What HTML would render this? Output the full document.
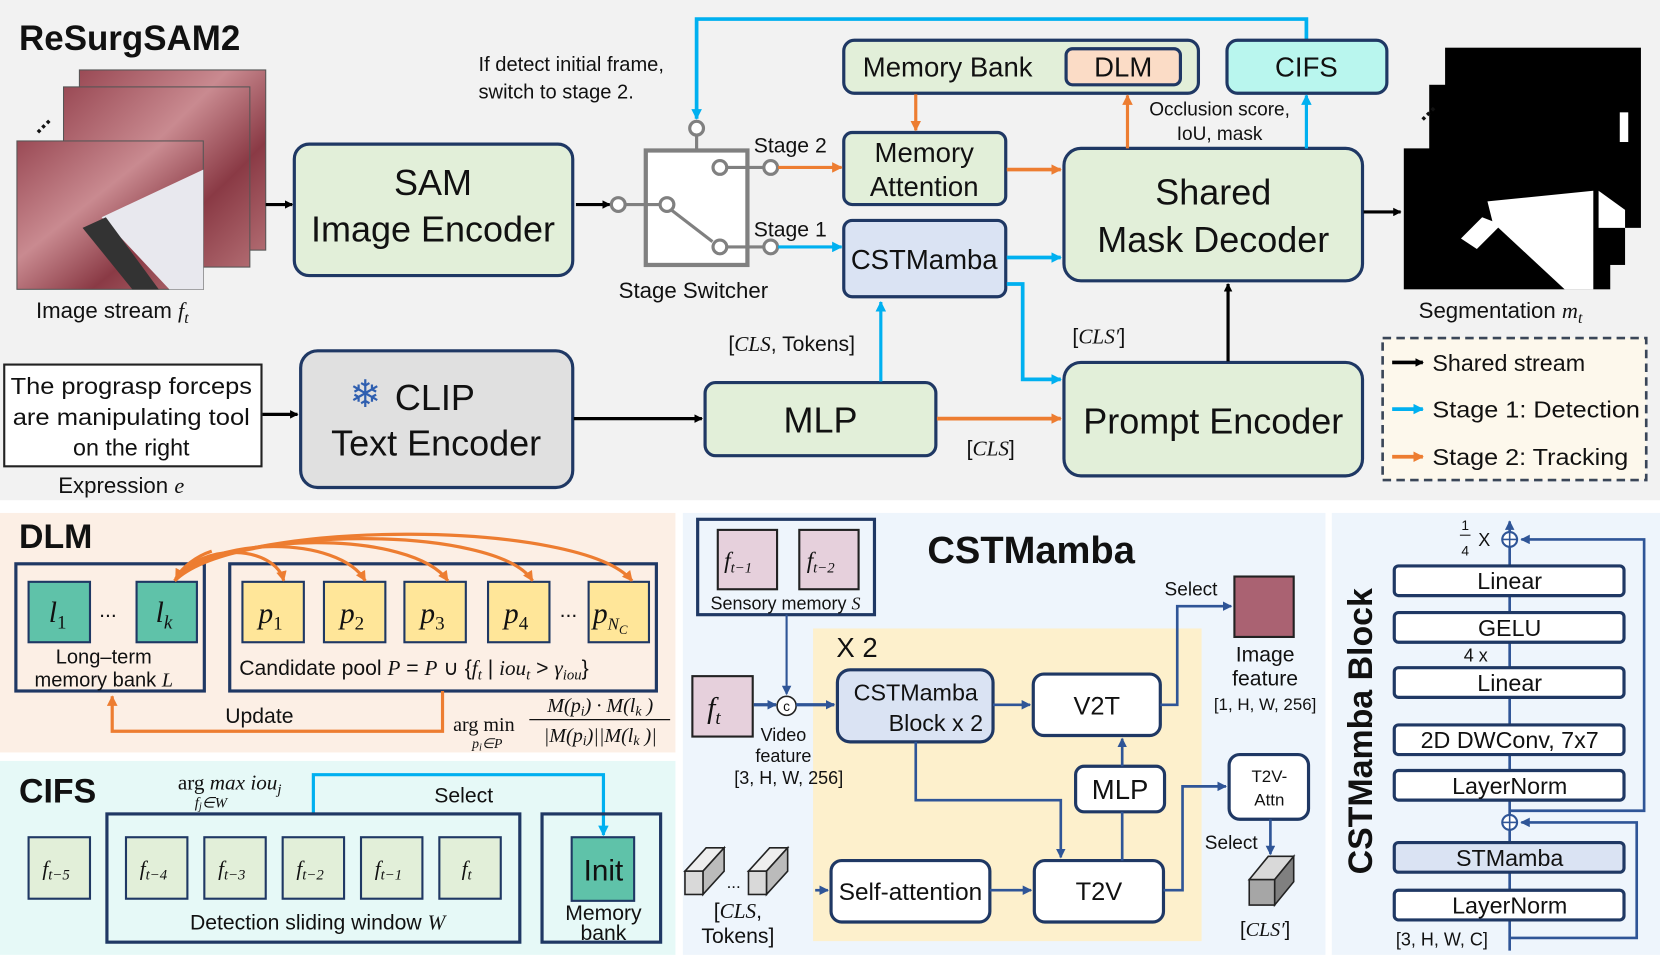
<!DOCTYPE html>
<html><head><meta charset="utf-8"><style>
html,body{margin:0;padding:0;background:#fff;}
svg{display:block;}
text{font-family:"Liberation Sans",Arial,sans-serif;fill:#111;}
.m{font-family:"Liberation Serif",serif;font-style:italic;}
.s{font-family:"Liberation Serif",serif;}
.b{font-weight:bold;}
</style></head><body>
<svg width="1660" height="957" viewBox="0 0 1568 903" preserveAspectRatio="none" xmlns="http://www.w3.org/2000/svg">
<defs>
<marker id="ak" markerWidth="8" markerHeight="8" refX="7" refY="4" orient="auto" markerUnits="userSpaceOnUse"><path d="M0,0 L8,4 L0,8 z" fill="#000"/></marker>
<marker id="ab" markerWidth="10" markerHeight="10" refX="9" refY="5" orient="auto" markerUnits="userSpaceOnUse"><path d="M0,0 L10,5 L0,10 z" fill="#00b0f0"/></marker>
<marker id="ao" markerWidth="10" markerHeight="10" refX="9" refY="5" orient="auto" markerUnits="userSpaceOnUse"><path d="M0,0 L10,5 L0,10 z" fill="#ed7d31"/></marker>
<marker id="an" markerWidth="9" markerHeight="9" refX="8" refY="4.5" orient="auto" markerUnits="userSpaceOnUse"><path d="M0,0 L9,4.5 L0,9 z" fill="#2f5597"/></marker>
<linearGradient id="tis" x1="0" y1="0" x2="1" y2="1"><stop offset="0" stop-color="#9a4a55"/><stop offset="0.4" stop-color="#c98a90"/><stop offset="0.7" stop-color="#8a3a45"/><stop offset="1" stop-color="#b06a70"/></linearGradient>
</defs>

<rect x="0" y="0" width="1568" height="472" fill="#f2f2f2"/>
<rect x="0" y="484" width="638" height="226" fill="#fcefe5"/>
<rect x="0" y="718" width="638" height="183" fill="#e6f9f7"/>
<rect x="645" y="484" width="607" height="417" fill="#eef5fc"/>
<rect x="1258" y="484" width="310" height="417" fill="#eef5fc"/>

<text x="18" y="47" class="b" font-size="33">ReSurgSAM2</text>
<rect x="75" y="66" width="176" height="170" fill="url(#tis)" stroke="#555" stroke-width="1"/>
<rect x="60" y="82" width="176" height="170" fill="url(#tis)" stroke="#555" stroke-width="1"/>
<rect x="16" y="133" width="176" height="140" fill="url(#tis)" stroke="#555" stroke-width="1"/>
<polygon points="96,205 192,160 192,273 160,273" fill="#e8e8ee"/>
<polygon points="78,215 100,205 150,273 125,273" fill="#333"/>
<text x="28" y="122" font-size="22" class="b" transform="rotate(-45 38 115)">...</text>
<text x="34" y="300" font-size="21">Image stream <tspan class="m">f</tspan><tspan class="m" font-size="15" dy="5">t</tspan></text>
<line x1="251" y1="193" x2="276" y2="193" stroke="#000" stroke-width="3" marker-end="url(#ak)"/>

<rect x="278" y="136" width="263" height="124" rx="14" fill="#e2efd9" stroke="#1f3864" stroke-width="3"/>
<text x="409" y="184" font-size="34" text-anchor="middle">SAM</text>
<text x="409" y="228" font-size="34" text-anchor="middle">Image Encoder</text>
<line x1="544" y1="193" x2="576" y2="193" stroke="#000" stroke-width="3" marker-end="url(#ak)"/>

<rect x="610" y="142" width="96" height="108" fill="#fff" stroke="#808080" stroke-width="4"/>
<g stroke="#808080" stroke-width="3" fill="#fff">
<line x1="591" y1="193" x2="624" y2="193"/>
<line x1="658" y1="128" x2="658" y2="142"/>
<line x1="687" y1="158" x2="721" y2="158"/>
<line x1="687" y1="233" x2="721" y2="233"/>
<line x1="634" y1="198" x2="673" y2="228"/>
<circle cx="584" cy="193" r="6.5"/><circle cx="630" cy="193" r="6.5"/>
<circle cx="658" cy="121" r="6.5"/>
<circle cx="680" cy="158" r="6.5"/><circle cx="728" cy="158" r="6.5"/>
<circle cx="680" cy="233" r="6.5"/><circle cx="728" cy="233" r="6.5"/>
</g>
<text x="712" y="144" font-size="20">Stage 2</text>
<text x="712" y="223" font-size="20">Stage 1</text>
<text x="655" y="281" font-size="21" text-anchor="middle">Stage Switcher</text>
<text x="452" y="67" font-size="19">If detect initial frame,</text>
<text x="452" y="93" font-size="19">switch to stage 2.</text>

<polyline points="1234,38 1234,18 658,18 658,112" fill="none" stroke="#00b0f0" stroke-width="3.5" marker-end="url(#ab)"/>

<rect x="797" y="38" width="335" height="50" rx="10" fill="#e2efd9" stroke="#1f3864" stroke-width="3"/>
<text x="815" y="72" font-size="26">Memory Bank</text>
<rect x="1007" y="46" width="108" height="34" rx="6" fill="#fbdcc6" stroke="#1f3864" stroke-width="3"/>
<text x="1061" y="72" font-size="26" text-anchor="middle">DLM</text>
<rect x="1159" y="38" width="151" height="50" rx="10" fill="#b9f6ee" stroke="#1f3864" stroke-width="3"/>
<text x="1234" y="72" font-size="26" text-anchor="middle">CIFS</text>

<rect x="797" y="125" width="153" height="68" rx="8" fill="#e2efd9" stroke="#1f3864" stroke-width="3"/>
<text x="873" y="153" font-size="26" text-anchor="middle">Memory</text>
<text x="873" y="185" font-size="26" text-anchor="middle">Attention</text>
<rect x="797" y="208" width="153" height="72" rx="8" fill="#dae3f3" stroke="#1f3864" stroke-width="3"/>
<text x="873" y="254" font-size="26" text-anchor="middle">CSTMamba</text>

<line x1="735" y1="158" x2="795" y2="158" stroke="#ed7d31" stroke-width="3" marker-end="url(#ao)"/>
<line x1="735" y1="233" x2="795" y2="233" stroke="#00b0f0" stroke-width="3" marker-end="url(#ab)"/>
<line x1="865" y1="89" x2="865" y2="123" stroke="#ed7d31" stroke-width="3" marker-end="url(#ao)"/>
<line x1="951" y1="160" x2="1002" y2="160" stroke="#ed7d31" stroke-width="3.5" marker-end="url(#ao)"/>
<line x1="951" y1="243" x2="1002" y2="243" stroke="#00b0f0" stroke-width="3.5" marker-end="url(#ab)"/>
<polyline points="951,268 966,268 966,358 1002,358" fill="none" stroke="#00b0f0" stroke-width="3.5" marker-end="url(#ab)"/>

<rect x="1005" y="140" width="282" height="125" rx="16" fill="#e2efd9" stroke="#1f3864" stroke-width="3"/>
<text x="1146" y="193" font-size="34" text-anchor="middle">Shared</text>
<text x="1146" y="238" font-size="34" text-anchor="middle">Mask Decoder</text>
<line x1="1065" y1="140" x2="1065" y2="90" stroke="#ed7d31" stroke-width="3" marker-end="url(#ao)"/>
<line x1="1234" y1="140" x2="1234" y2="90" stroke="#00b0f0" stroke-width="3" marker-end="url(#ab)"/>
<text x="1152" y="109" font-size="18" text-anchor="middle">Occlusion score,</text>
<text x="1152" y="132" font-size="18" text-anchor="middle">IoU, mask</text>
<line x1="1288" y1="200" x2="1323" y2="200" stroke="#000" stroke-width="3" marker-end="url(#ak)"/>

<rect x="1365" y="45" width="185" height="170" fill="#000"/>
<rect x="1350" y="80" width="185" height="170" fill="#000"/>
<rect x="1326" y="140" width="195" height="133" fill="#000"/>
<rect x="1530" y="106" width="8" height="28" fill="#fff"/>
<polygon points="1510,180 1535,198 1535,215 1510,215" fill="#fff"/>
<polygon points="1405,190 1505,180 1505,273 1478,273 1410,210" fill="#fff"/>
<polygon points="1380,225 1400,205 1418,212 1395,235" fill="#fff"/>
<text x="1336" y="110" font-size="22" class="b" transform="rotate(-45 1346 103)">...</text>
<text x="1340" y="300" font-size="21">Segmentation <tspan class="m">m</tspan><tspan class="m" font-size="15" dy="5">t</tspan></text>

<rect x="1306" y="319" width="249" height="134" fill="#fdf8ec" stroke="#3a4658" stroke-width="2.5" stroke-dasharray="8,5"/>
<line x1="1315" y1="342" x2="1344" y2="342" stroke="#000" stroke-width="3.5" marker-end="url(#ak)"/>
<line x1="1315" y1="386" x2="1344" y2="386" stroke="#00b0f0" stroke-width="3.5" marker-end="url(#ab)"/>
<line x1="1315" y1="431" x2="1344" y2="431" stroke="#ed7d31" stroke-width="3.5" marker-end="url(#ao)"/>
<text x="1353" y="350" font-size="22">Shared stream</text>
<text x="1353" y="394" font-size="22" textLength="196" lengthAdjust="spacingAndGlyphs">Stage 1: Detection</text>
<text x="1353" y="439" font-size="22" textLength="185" lengthAdjust="spacingAndGlyphs">Stage 2: Tracking</text>

<rect x="4" y="344" width="243" height="96" fill="#fff" stroke="#222" stroke-width="2"/>
<text x="124" y="372" font-size="22" text-anchor="middle" textLength="228" lengthAdjust="spacingAndGlyphs">The prograsp forceps</text>
<text x="124" y="401" font-size="22" text-anchor="middle" textLength="224" lengthAdjust="spacingAndGlyphs">are manipulating tool</text>
<text x="124" y="430" font-size="22" text-anchor="middle">on the right</text>
<text x="55" y="465" font-size="21">Expression <tspan class="m">e</tspan></text>
<line x1="248" y1="391" x2="281" y2="391" stroke="#000" stroke-width="3" marker-end="url(#ak)"/>

<rect x="284" y="331" width="257" height="129" rx="16" fill="#e0e0e0" stroke="#1f3864" stroke-width="3"/>
<text x="330" y="384" font-size="36" style="fill:#2f5fb0">❄</text>
<text x="373" y="387" font-size="34">CLIP</text>
<text x="412" y="430" font-size="34" text-anchor="middle">Text Encoder</text>
<line x1="542" y1="395" x2="663" y2="395" stroke="#000" stroke-width="3" marker-end="url(#ak)"/>

<rect x="666" y="361" width="218" height="69" rx="10" fill="#e2efd9" stroke="#1f3864" stroke-width="3"/>
<text x="775" y="408" font-size="34" text-anchor="middle">MLP</text>
<line x1="832" y1="360" x2="832" y2="285" stroke="#00b0f0" stroke-width="3" marker-end="url(#ab)"/>
<text x="688" y="331" font-size="20">[<tspan class="m">CLS</tspan>, Tokens]</text>
<line x1="885" y1="395" x2="1002" y2="395" stroke="#ed7d31" stroke-width="3.5" marker-end="url(#ao)"/>
<text x="913" y="430" font-size="20">[<tspan class="m">CLS</tspan>]</text>
<text x="1013" y="324" font-size="20">[<tspan class="m">CLS′</tspan>]</text>

<rect x="1005" y="342" width="282" height="107" rx="16" fill="#e2efd9" stroke="#1f3864" stroke-width="3"/>
<text x="1146" y="409" font-size="34" text-anchor="middle">Prompt Encoder</text>
<line x1="1160" y1="341" x2="1160" y2="268" stroke="#000" stroke-width="3" marker-end="url(#ak)"/>

<text x="18" y="517" class="b" font-size="32">DLM</text>
<rect x="15" y="532" width="178" height="120" fill="none" stroke="#1f3864" stroke-width="3"/>
<rect x="27" y="549" width="58" height="57" fill="#5fc2a9" stroke="#1f3864" stroke-width="2"/>
<rect x="129" y="549" width="57" height="57" fill="#5fc2a9" stroke="#1f3864" stroke-width="2"/>
<text x="46" y="587" class="m" font-size="28">l<tspan font-size="18" dy="6" font-style="normal">1</tspan></text>
<text x="147" y="587" class="m" font-size="28">l<tspan font-size="18" dy="6">k</tspan></text>
<text x="102" y="582" font-size="20" text-anchor="middle">...</text>
<text x="98" y="626" font-size="19" text-anchor="middle">Long–term</text>
<text x="98" y="648" font-size="19" text-anchor="middle">memory bank <tspan class="m">L</tspan></text>

<rect x="217" y="532" width="403" height="120" fill="none" stroke="#1f3864" stroke-width="3"/>
<g fill="#ffe699" stroke="#1f3864" stroke-width="2">
<rect x="229" y="549" width="58" height="57"/><rect x="306" y="549" width="58" height="57"/>
<rect x="382" y="549" width="58" height="57"/><rect x="461" y="549" width="58" height="57"/>
<rect x="556" y="549" width="57" height="57"/></g>
<g font-size="28">
<text x="244" y="588" class="m">p<tspan font-size="18" dy="6" font-style="normal">1</tspan></text>
<text x="321" y="588" class="m">p<tspan font-size="18" dy="6" font-style="normal">2</tspan></text>
<text x="397" y="588" class="m">p<tspan font-size="18" dy="6" font-style="normal">3</tspan></text>
<text x="476" y="588" class="m">p<tspan font-size="18" dy="6" font-style="normal">4</tspan></text>
<text x="560" y="588" class="m">p<tspan font-size="16" dy="6">N</tspan><tspan font-size="12" dy="4">C</tspan></text>
</g>
<text x="537" y="582" font-size="20" text-anchor="middle">...</text>
<text x="226" y="637" font-size="20">Candidate pool <tspan class="m">P</tspan> = <tspan class="m">P</tspan> ∪ {<tspan class="m">f</tspan><tspan class="m" font-size="14" dy="4">t</tspan><tspan dy="-4"> | </tspan><tspan class="m">iou</tspan><tspan class="m" font-size="14" dy="4">t</tspan><tspan dy="-4"> &gt; </tspan><tspan class="m">γ</tspan><tspan class="m" font-size="14" dy="4">iou</tspan><tspan dy="-4">}</tspan></text>
<g fill="none" stroke="#ed7d31" stroke-width="3">
<path d="M165,548 C190,510 260,515 268,548" marker-end="url(#ao)"/>
<path d="M165,548 C200,505 320,505 345,548" marker-end="url(#ao)"/>
<path d="M165,548 C210,500 390,500 423,548" marker-end="url(#ao)"/>
<path d="M165,548 C220,495 470,495 503,548" marker-end="url(#ao)"/>
<path d="M168,545 C230,490 550,490 597,548" marker-end="url(#ao)"/>
<path d="M200,520 C185,525 172,535 166,546" marker-end="url(#ao)"/>
<polyline points="418,652 418,690 106,690 106,657" marker-end="url(#ao)"/>
</g>
<text x="245" y="682" font-size="20" text-anchor="middle">Update</text>
<text x="428" y="690" font-size="19" style="font-family:'Liberation Serif',serif">arg min</text>
<text x="446" y="706" class="m" font-size="13">p<tspan font-size="10" dy="2">i</tspan><tspan dy="-2">∈P</tspan></text>
<text x="567" y="672" class="m" font-size="19" text-anchor="middle">M(p<tspan font-size="13" dy="3">i</tspan><tspan dy="-3">) · M(l</tspan><tspan font-size="13" dy="3">k</tspan><tspan dy="-3"> )</tspan></text>
<line x1="500" y1="679" x2="633" y2="679" stroke="#111" stroke-width="1.2"/>
<text x="567" y="700" class="m" font-size="19" text-anchor="middle">|M(p<tspan font-size="13" dy="3">i</tspan><tspan dy="-3">)||M(l</tspan><tspan font-size="13" dy="3">k</tspan><tspan dy="-3"> )|</tspan></text>

<text x="18" y="757" class="b" font-size="32">CIFS</text>
<text x="168" y="745" font-size="20" style="font-family:'Liberation Serif',serif">arg <tspan class="m">max iou</tspan><tspan class="m" font-size="14" dy="4">j</tspan></text>
<text x="184" y="762" class="m" font-size="14">f<tspan font-size="10" dy="2">j</tspan><tspan dy="-2">∈W</tspan></text>
<polyline points="296,768 296,731 570,731 570,788" fill="none" stroke="#00b0f0" stroke-width="3" marker-end="url(#ab)"/>
<text x="438" y="757" font-size="20" text-anchor="middle">Select</text>
<rect x="101" y="768" width="390" height="121" fill="none" stroke="#1f3864" stroke-width="3"/>
<g fill="#e2efd9" stroke="#1f3864" stroke-width="2">
<rect x="27" y="790" width="58" height="58"/><rect x="119" y="790" width="58" height="58"/>
<rect x="193" y="790" width="58" height="58"/><rect x="267" y="790" width="58" height="58"/>
<rect x="341" y="790" width="58" height="58"/><rect x="415" y="790" width="58" height="58"/></g>
<g font-size="20">
<text x="40" y="826" class="m">f<tspan font-size="14" dy="4">t−5</tspan></text>
<text x="132" y="826" class="m">f<tspan font-size="14" dy="4">t−4</tspan></text>
<text x="206" y="826" class="m">f<tspan font-size="14" dy="4">t−3</tspan></text>
<text x="280" y="826" class="m">f<tspan font-size="14" dy="4">t−2</tspan></text>
<text x="354" y="826" class="m">f<tspan font-size="14" dy="4">t−1</tspan></text>
<text x="436" y="826" class="m">f<tspan font-size="14" dy="4">t</tspan></text>
</g>
<text x="300" y="877" font-size="20" text-anchor="middle">Detection sliding window <tspan class="m">W</tspan></text>
<rect x="512" y="768" width="112" height="121" fill="none" stroke="#1f3864" stroke-width="3"/>
<rect x="540" y="790" width="59" height="60" fill="#5fc2a9" stroke="#1f3864" stroke-width="2"/>
<text x="570" y="831" font-size="28" text-anchor="middle">Init</text>
<text x="570" y="868" font-size="20" text-anchor="middle">Memory</text>
<text x="570" y="887" font-size="20" text-anchor="middle">bank</text>

<rect x="768" y="593" width="367" height="295" fill="#fdf0cc"/>
<rect x="659" y="490" width="167" height="90" fill="none" stroke="#1f3864" stroke-width="3"/>
<rect x="678" y="500" width="56" height="56" fill="#e6d0dc" stroke="#222" stroke-width="2"/>
<rect x="755" y="500" width="56" height="56" fill="#e6d0dc" stroke="#222" stroke-width="2"/>
<text x="684" y="536" class="m" font-size="22">f<tspan font-size="14" dy="4">t−1</tspan></text>
<text x="762" y="536" class="m" font-size="22">f<tspan font-size="14" dy="4">t−2</tspan></text>
<text x="742" y="575" font-size="17" text-anchor="middle">Sensory memory <tspan class="m">S</tspan></text>
<text x="876" y="531" class="b" font-size="36">CSTMamba</text>
<text x="790" y="620" font-size="26">X 2</text>

<rect x="654" y="638" width="57" height="57" fill="#e6d0dc" stroke="#222" stroke-width="2"/>
<text x="668" y="677" class="m" font-size="28">f<tspan font-size="18" dy="6">t</tspan></text>
<line x1="712" y1="665" x2="733" y2="665" stroke="#2f5597" stroke-width="3" marker-end="url(#an)"/>
<line x1="743" y1="580" x2="743" y2="655" stroke="#2f5597" stroke-width="2" marker-end="url(#an)"/>
<circle cx="743" cy="666" r="9" fill="#fff" stroke="#222" stroke-width="1.5"/>
<text x="743" y="671" font-size="13" text-anchor="middle">c</text>
<line x1="752" y1="665" x2="788" y2="665" stroke="#2f5597" stroke-width="3" marker-end="url(#an)"/>
<text x="740" y="699" font-size="17" text-anchor="middle">Video</text>
<text x="740" y="719" font-size="17" text-anchor="middle">feature</text>
<text x="745" y="740" font-size="17" text-anchor="middle">[3, H, W, 256]</text>

<rect x="791" y="632" width="147" height="68" rx="12" fill="#dae3f3" stroke="#1f3864" stroke-width="3"/>
<text x="865" y="661" font-size="22" text-anchor="middle">CSTMamba</text>
<text x="884" y="690" font-size="22" text-anchor="middle">Block x 2</text>
<rect x="976" y="636" width="120" height="58" rx="10" fill="#fff" stroke="#1f3864" stroke-width="3"/>
<text x="1036" y="674" font-size="24" text-anchor="middle">V2T</text>
<rect x="1016" y="723" width="84" height="43" rx="8" fill="#fff" stroke="#1f3864" stroke-width="3"/>
<text x="1058" y="754" font-size="26" text-anchor="middle">MLP</text>
<rect x="785" y="812" width="150" height="58" rx="10" fill="#fff" stroke="#1f3864" stroke-width="3"/>
<text x="860" y="849" font-size="23" text-anchor="middle">Self-attention</text>
<rect x="977" y="812" width="122" height="58" rx="10" fill="#fff" stroke="#1f3864" stroke-width="3"/>
<text x="1038" y="849" font-size="24" text-anchor="middle">T2V</text>
<rect x="1161" y="712" width="75" height="61" rx="10" fill="#fff" stroke="#1f3864" stroke-width="3"/>
<text x="1199" y="738" font-size="16" text-anchor="middle">T2V-</text>
<text x="1199" y="760" font-size="16" text-anchor="middle">Attn</text>

<g fill="none" stroke="#2f5597" stroke-width="2.5">
<line x1="938" y1="665" x2="973" y2="665" marker-end="url(#an)"/>
<polyline points="865,700 865,755 1002,755 1002,809" marker-end="url(#an)"/>
<line x1="1060" y1="812" x2="1060" y2="766"/>
<line x1="1060" y1="723" x2="1060" y2="697" marker-end="url(#an)"/>
<polyline points="1096,665 1112,665 1112,572 1163,572" marker-end="url(#an)"/>
<polyline points="1099,840 1117,840 1117,742 1158,742" marker-end="url(#an)"/>
<line x1="1200" y1="773" x2="1200" y2="806" marker-end="url(#an)"/>
<line x1="770" y1="840" x2="782" y2="840" marker-end="url(#an)"/>
<line x1="935" y1="840" x2="974" y2="840" marker-end="url(#an)"/>
</g>
<rect x="1166" y="544" width="56" height="57" fill="#aa6272" stroke="#222" stroke-width="2"/>
<text x="1125" y="562" font-size="18" text-anchor="middle">Select</text>
<text x="1195" y="624" font-size="20" text-anchor="middle">Image</text>
<text x="1195" y="647" font-size="20" text-anchor="middle">feature</text>
<text x="1195" y="670" font-size="16" text-anchor="middle">[1, H, W, 256]</text>
<text x="1163" y="801" font-size="18" text-anchor="middle">Select</text>
<polygon points="1180,830 1198,808 1222,808 1204,830" fill="#d9d9d9" stroke="#222" stroke-width="1.5"/>
<polygon points="1204,830 1222,808 1222,832 1204,854" fill="#808080" stroke="#222" stroke-width="1.5"/>
<rect x="1180" y="830" width="24" height="24" fill="#a6a6a6" stroke="#222" stroke-width="1.5"/>
<text x="1195" y="883" font-size="19" text-anchor="middle">[<tspan class="m">CLS′</tspan>]</text>
<g stroke="#222" stroke-width="1.5">
<polygon points="647,822 667,800 684,800 664,822" fill="#eee"/><polygon points="664,822 684,800 684,822 664,844" fill="#bbb"/><rect x="647" y="822" width="17" height="22" fill="#d9d9d9"/>
<polygon points="707,822 727,800 744,800 724,822" fill="#eee"/><polygon points="724,822 744,800 744,822 724,844" fill="#bbb"/><rect x="707" y="822" width="17" height="22" fill="#d9d9d9"/>
</g>
<text x="693" y="838" font-size="16" text-anchor="middle">...</text>
<text x="697" y="866" font-size="20" text-anchor="middle">[<tspan class="m">CLS</tspan>,</text>
<text x="697" y="890" font-size="20" text-anchor="middle">Tokens]</text>

<text x="0" y="0" class="b" font-size="32" text-anchor="middle" transform="translate(1296 690) rotate(-90)">CSTMamba Block</text>
<g fill="none" stroke="#2f5597" stroke-width="2.5">
<line x1="1426" y1="897" x2="1426" y2="492" marker-end="url(#an)"/>
<polyline points="1426,885 1546,885 1546,776 1437,776" marker-end="url(#an)"/>
<polyline points="1426,765 1553,765 1553,509 1437,509" marker-end="url(#an)"/>
</g>
<g stroke="#1f3864" stroke-width="3">
<rect x="1317" y="534" width="217" height="28" rx="4" fill="#fff"/>
<rect x="1317" y="578" width="217" height="28" rx="4" fill="#fff"/>
<rect x="1317" y="630" width="217" height="28" rx="4" fill="#fff"/>
<rect x="1317" y="684" width="217" height="28" rx="4" fill="#fff"/>
<rect x="1317" y="727" width="217" height="28" rx="4" fill="#fff"/>
<rect x="1317" y="795" width="217" height="28" rx="4" fill="#dae3f3"/>
<rect x="1317" y="840" width="217" height="28" rx="4" fill="#fff"/>
</g>
<g font-size="22" text-anchor="middle">
<text x="1426" y="556">Linear</text>
<text x="1426" y="600">GELU</text>
<text x="1426" y="652">Linear</text>
<text x="1426" y="706">2D DWConv, 7x7</text>
<text x="1426" y="749">LayerNorm</text>
<text x="1426" y="817">STMamba</text>
<text x="1426" y="862">LayerNorm</text>
</g>
<g fill="#fff" stroke="#2f5597" stroke-width="2">
<circle cx="1426" cy="509" r="7"/><circle cx="1426" cy="776" r="7"/></g>
<g stroke="#2f5597" stroke-width="1.5">
<line x1="1419" y1="509" x2="1433" y2="509"/><line x1="1426" y1="502" x2="1426" y2="516"/>
<line x1="1419" y1="776" x2="1433" y2="776"/><line x1="1426" y1="769" x2="1426" y2="783"/></g>
<text x="1384" y="500" font-size="13" text-anchor="middle">1</text>
<line x1="1379" y1="505" x2="1389" y2="505" stroke="#111" stroke-width="1"/>
<text x="1384" y="524" font-size="13" text-anchor="middle">4</text>
<text x="1402" y="515" font-size="17" text-anchor="middle">X</text>
<text x="1394" y="624" font-size="17" text-anchor="middle">4 x</text>
<text x="1362" y="892" font-size="17" text-anchor="middle">[3, H, W, C]</text>
</svg>
</body></html>
